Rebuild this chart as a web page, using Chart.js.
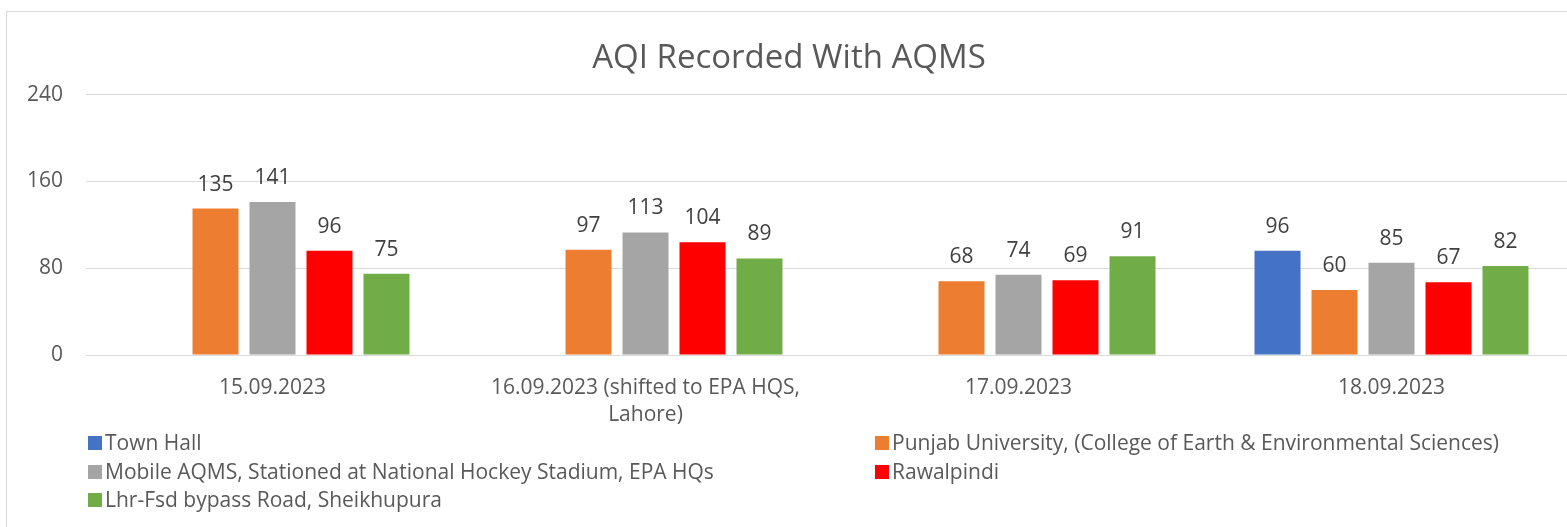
<!DOCTYPE html>
<html lang="en">
<head>
    <meta charset="UTF-8">
    <title>AQI Recorded With AQMS</title>
    <script src="https://cdn.jsdelivr.net/npm/chart.js"></script>
    <style>
        html, body { margin: 0; padding: 0; background: #fff; overflow: hidden; width: 1567px; height: 527px; }
        #frame { position: absolute; left: 6px; top: 11px; width: 1640px; height: 600px; border: 1px solid #d9d9d9; box-sizing: border-box; }
        #aqi { position: absolute; left: 0; top: 0; }
    </style>
</head>
<body>
    <div id="frame"></div>
    <canvas id="aqi" width="1585" height="527"></canvas>

    <script>
        // donnees
        const dates = ['15.09.2023', ['16.09.2023 (shifted to EPA HQS,', 'Lahore)'], '17.09.2023', '18.09.2023'];
        const stations = [
            'Town Hall',
            'Punjab University, (College of Earth & Environmental Sciences)',
            'Mobile AQMS, Stationed at National Hockey Stadium, EPA HQs',
            'Rawalpindi',
            'Lhr-Fsd bypass Road, Sheikhupura'
        ];
        const townHall = [null, null, null, 96];
        const punjabUni = [135, 97, 68, 60];
        const mobileAqms = [141, 113, 74, 85];
        const rawalpindi = [96, 104, 69, 67];
        const sheikhupura = [75, 89, 91, 82];
        const yTicks = [0, 80, 160, 240];

        const colours = ['#4472C4', '#ED7D31', '#A5A5A5', '#FF0000', '#70AD47'];
        const series = [townHall, punjabUni, mobileAqms, rawalpindi, sheikhupura];
        const FONT = "'Open Sans', sans-serif";

        // valeurs au dessus des barres
        const valueLabels = {
            id: 'valueLabels',
            afterDatasetsDraw(chart) {
                const ctx = chart.ctx;
                ctx.save();
                ctx.font = '21px ' + FONT;
                ctx.fillStyle = '#404040';
                ctx.textAlign = 'center';
                ctx.textBaseline = 'middle';
                chart.data.datasets.forEach((ds, i) => {
                    chart.getDatasetMeta(i).data.forEach((bar, j) => {
                        if (ds.data[j] == null) return;
                        ctx.fillText(ds.data[j], bar.x, bar.y - 24);
                    });
                });
                ctx.restore();
            }
        };

        // legende sur deux colonnes comme dans Excel
        const twoColLegend = {
            id: 'twoColLegend',
            afterDraw(chart) {
                const ctx = chart.ctx;
                const colX = [88, 875];
                const rowY = [443, 472, 500];
                ctx.save();
                ctx.font = '21px ' + FONT;
                ctx.textBaseline = 'middle';
                ctx.textAlign = 'left';
                chart.data.datasets.forEach((ds, i) => {
                    const x = colX[i % 2];
                    const y = rowY[Math.floor(i / 2)];
                    ctx.fillStyle = ds.backgroundColor;
                    ctx.fillRect(x, y - 7, 14, 14);
                    ctx.fillStyle = '#595959';
                    ctx.fillText(ds.label, x + 17, y + 1);
                });
                ctx.restore();
            }
        };

        const ctx = document.getElementById('aqi').getContext('2d');
        const chart = new Chart(ctx, {
            type: 'bar',
            data: {
                labels: dates,
                datasets: series.map((d, i) => ({
                    label: stations[i],
                    data: d,
                    backgroundColor: colours[i],
                    categoryPercentage: 0.764,
                    barPercentage: 0.807
                }))
            },
            options: {
                responsive: false,
                devicePixelRatio: 1,
                animation: false,
                layout: { padding: { left: 0, right: 7, top: 0, bottom: 92 } },
                plugins: {
                    legend: { display: false },
                    tooltip: { enabled: false },
                    title: {
                        display: true,
                        text: 'AQI Recorded With AQMS',
                        color: '#595959',
                        font: { family: FONT, size: 33, weight: 'normal' },
                        padding: { top: 39, bottom: 16 }
                    }
                },
                scales: {
                    x: {
                        grid: { display: false },
                        border: { display: false },
                        ticks: {
                            color: '#595959',
                            font: { family: FONT, size: 21, lineHeight: 1.3 },
                            padding: 11,
                            maxRotation: 0,
                            autoSkip: false
                        },
                        afterFit(scale) { scale.height = 80; }
                    },
                    y: {
                        min: 0,
                        max: 240,
                        afterBuildTicks(scale) { scale.ticks = yTicks.map(v => ({ value: v })); },
                        grid: { color: '#d9d9d9', lineWidth: 1, drawTicks: false },
                        border: { display: false },
                        ticks: {
                            color: '#595959',
                            font: { family: FONT, size: 21 },
                            padding: 23
                        },
                        afterFit(scale) { scale.width = 86; }
                    }
                }
            },
            plugins: [valueLabels, twoColLegend]
        });
    </script>
</body>
</html>
